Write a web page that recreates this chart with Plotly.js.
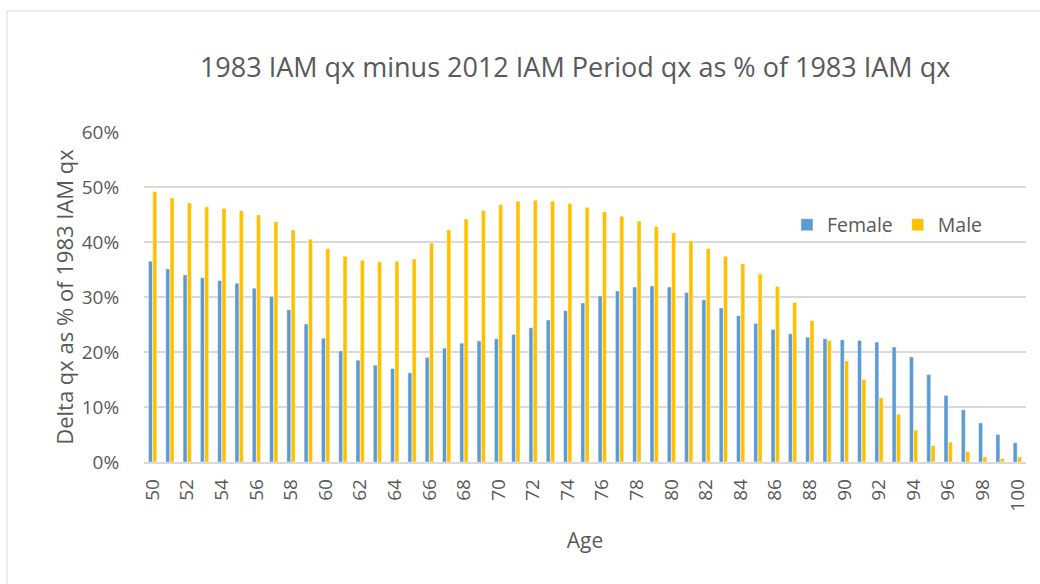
<!DOCTYPE html>
<html>
<head>
<meta charset="utf-8">
<script src="https://cdn.plot.ly/plotly-3.0.1.min.js"></script>
<style>html,body{margin:0;padding:0;background:#fff;}#chart{width:1040px;height:584px;}</style>
</head>
<body>
<div id="chart"></div>
<script>
const ages = [];
for (let a = 50; a <= 100; a++) ages.push(a);
const female = [36.5,35.1,34.0,33.5,33.0,32.5,31.6,30.1,27.7,25.1,22.5,20.2,18.5,17.6,17.0,16.2,19.0,20.7,21.6,22.0,22.4,23.2,24.4,25.8,27.5,28.9,30.2,31.1,31.8,32.0,31.8,30.8,29.5,28.0,26.6,25.2,24.1,23.3,22.7,22.4,22.2,22.1,21.8,20.9,19.1,15.9,12.1,9.5,7.1,5.0,3.5];
const male = [49.2,48.0,47.1,46.4,46.1,45.7,44.9,43.7,42.2,40.5,38.8,37.4,36.7,36.4,36.5,36.9,39.8,42.2,44.2,45.7,46.8,47.4,47.6,47.4,47.0,46.3,45.5,44.7,43.8,42.8,41.7,40.2,38.8,37.4,36.0,34.2,31.9,29.0,25.7,22.1,18.4,15.0,11.7,8.7,5.8,3.0,3.6,1.9,0.9,0.6,0.9];
const xTicks = [];
for (let a = 50; a <= 100; a += 2) xTicks.push(a);
const yTicks = [0,0.1,0.2,0.3,0.4,0.5,0.6];

const font = 'Open Sans, Noto Sans, sans-serif';
const traces = [
  {type:'bar', name:'Female', x:ages, y:female.map(v=>v/100),
   marker:{color:'#5B9BD5', line:{color:'#ffffff', width:0.4}}},
  {type:'bar', name:'Male', x:ages, y:male.map(v=>v/100),
   marker:{color:'#FFC000', line:{color:'#ffffff', width:0.4}}}
];
const layout = {
  width:1040, height:584,
  margin:{l:144, r:14, t:132, b:122},
  paper_bgcolor:'#fff', plot_bgcolor:'#fff',
  font:{family:font, color:'#595959'},
  title:{text:'1983 IAM qx minus 2012 IAM Period qx as % of 1983 IAM qx',
         font:{size:27, color:'#595959', family:font}, x:0.553, xanchor:'center', y:0.885, yanchor:'middle'},
  barmode:'group', bargap:0.5, bargroupgap:0.08,
  showlegend:true,
  legend:{orientation:'h', x:0.729, y:0.718, xanchor:'left', yanchor:'middle',
          font:{size:19.5, color:'#595959'}, bgcolor:'rgba(0,0,0,0)', itemwidth:30, traceorder:'normal'},
  xaxis:{type:'linear', range:[49.5,100.5], tickvals:xTicks, ticktext:xTicks.map(String),
         tickangle:-90, tickfont:{size:19, color:'#595959'}, ticks:'outside', ticklen:8, tickcolor:'rgba(0,0,0,0)',
         showgrid:false, showline:true, linecolor:'#D9D9D9', linewidth:1.5, zeroline:false,
         title:{text:'Age', font:{size:21, color:'#595959'}, standoff:22}},
  yaxis:{range:[0,0.6], tickvals:yTicks, tickformat:'.0%', tickfont:{size:19, color:'#595959'},
         ticks:'outside', ticklen:20, tickcolor:'rgba(0,0,0,0)',
         showgrid:true, gridcolor:'#D9D9D9', gridwidth:1.5, zeroline:false, showline:false,
         title:{text:'Delta qx as % of 1983 IAM qx', font:{size:22, color:'#595959'}, standoff:2}},
  shapes:[{type:'rect', xref:'paper', yref:'paper',
           x0:(7-144)/882, x1:(1060-144)/882, y0:(462-600)/330, y1:(462-11)/330,
           line:{color:'#D9D9D9', width:1}, fillcolor:'rgba(0,0,0,0)', layer:'below'}]
};
Plotly.newPlot('chart', traces, layout, {displayModeBar:false, staticPlot:true});
</script>
</body>
</html>
